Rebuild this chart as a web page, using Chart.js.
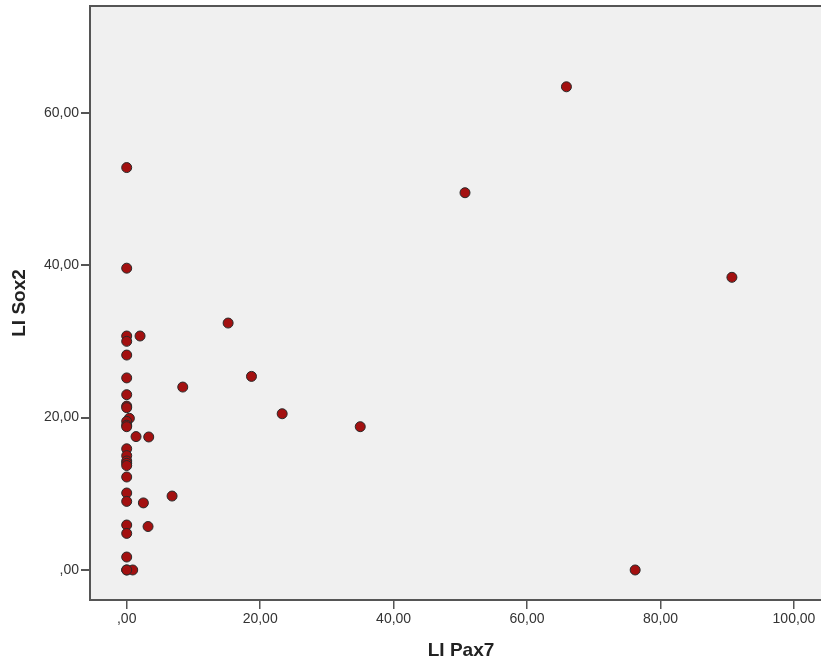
<!DOCTYPE html>
<html>
<head>
<meta charset="utf-8">
<script src="https://cdn.jsdelivr.net/npm/chart.js@4/dist/chart.umd.min.js"></script>
<style>
  html, body { margin: 0; padding: 0; background: #ffffff; overflow: hidden; }
  #wrap { width: 821px; height: 662px; overflow: hidden; position: relative; }
  #c { position: absolute; left: 0; top: 0; }
</style>
</head>
<body>
<div id="wrap"><canvas id="c" width="838" height="662"></canvas></div>
<script>
// LI Pax7 (x) vs LI Sox2 (y)
const pax7 = [65.9, 0, 50.7, 0, 90.7, 15.2, 0, 2.0, 0, 0, 0, 18.7, 8.4, 0, 0, 0, 23.3, 0.4, 0, 0, 0, 35.0, 1.4, 3.3, 0, 0, 0, 0, 0, 0, 0, 6.8, 0, 2.5, 0, 3.2, 0, 0, 0, 0.9, 0, 76.2];
const sox2 = [63.4, 52.8, 49.5, 39.6, 38.4, 32.4, 30.7, 30.7, 30.0, 28.2, 25.2, 25.4, 24.0, 23.0, 21.5, 21.3, 20.5, 19.9, 19.5, 19.0, 18.8, 18.8, 17.5, 17.45, 15.9, 15.0, 14.3, 14.0, 13.7, 12.2, 10.1, 9.7, 9.0, 8.8, 5.9, 5.7, 4.8, 1.7, 0, 0, 0, 0];
const xTicks = [0, 20, 40, 60, 80, 100];
const yTicks = [0, 20, 40, 60];
const xTitle = 'LI Pax7';
const yTitle = 'LI Sox2';

const points = pax7.map((x, i) => ({ x: x, y: sox2[i] }));

function fmt(v) {
  const s = Number(v).toFixed(2).replace('.', ',');
  return s.startsWith('0,') ? s.slice(1) : s;
}

const frame = {
  id: 'frame',
  beforeDraw(chart) {
    const { ctx, chartArea: a } = chart;
    ctx.save();
    ctx.fillStyle = '#f0f0f0';
    ctx.fillRect(a.left, a.top, a.right - a.left, a.bottom - a.top);
    ctx.restore();
  },
  afterDraw(chart) {
    const { ctx, chartArea: a } = chart;
    ctx.save();
    ctx.strokeStyle = '#555555';
    ctx.lineWidth = 2;
    ctx.beginPath();
    ctx.moveTo(a.left - 1, a.top);
    ctx.lineTo(a.right, a.top);
    ctx.stroke();
    ctx.restore();
  }
};

function zeroPad(s) {
  s.paddingLeft = 0; s.paddingRight = 0; s.paddingTop = 0; s.paddingBottom = 0;
}

const tickFont = { family: "'Liberation Sans', Arial, sans-serif", size: 14 };
const titleFont = { family: "'Liberation Sans', Arial, sans-serif", size: 19, weight: 'bold' };

const chart = new Chart(document.getElementById('c'), {
  type: 'scatter',
  data: {
    datasets: [{
      data: points,
      pointRadius: 5,
      pointHoverRadius: 5,
      borderWidth: 1,
      backgroundColor: '#a31010',
      borderColor: '#2a2a2a'
    }]
  },
  options: {
    responsive: false,
    animation: false,
    events: [],
    layout: { padding: { top: 6, left: 0, right: 0, bottom: 0 } },
    plugins: { legend: { display: false }, tooltip: { enabled: false } },
    scales: {
      x: {
        type: 'linear',
        min: -5.5,
        max: 105.7,
        afterBuildTicks(s) { s.ticks = xTicks.map(v => ({ value: v })); },
        afterFit(s) { s.height = 62; zeroPad(s); },
        ticks: { callback: v => fmt(v), color: '#333333', font: tickFont, padding: 2, maxRotation: 0, autoSkip: false },
        grid: { drawOnChartArea: false, drawTicks: true, tickLength: 9, color: '#555555', lineWidth: 1.5 },
        border: { display: true, color: '#555555', width: 2 },
        title: { display: true, text: xTitle, color: '#222222', font: titleFont, padding: { top: 0, bottom: 0 } }
      },
      y: {
        type: 'linear',
        min: -3.94,
        max: 74.0,
        afterBuildTicks(s) { s.ticks = yTicks.map(v => ({ value: v })); },
        afterFit(s) { s.width = 90; zeroPad(s); },
        ticks: { callback: v => fmt(v), color: '#333333', font: tickFont, padding: 2, autoSkip: false },
        grid: { drawOnChartArea: false, drawTicks: true, tickLength: 9, color: '#555555', lineWidth: 2 },
        border: { display: true, color: '#555555', width: 2 },
        title: { display: true, text: yTitle, color: '#222222', font: titleFont, padding: { top: 8, bottom: 0 } }
      }
    }
  },
  plugins: [frame]
});
</script>
</body>
</html>
